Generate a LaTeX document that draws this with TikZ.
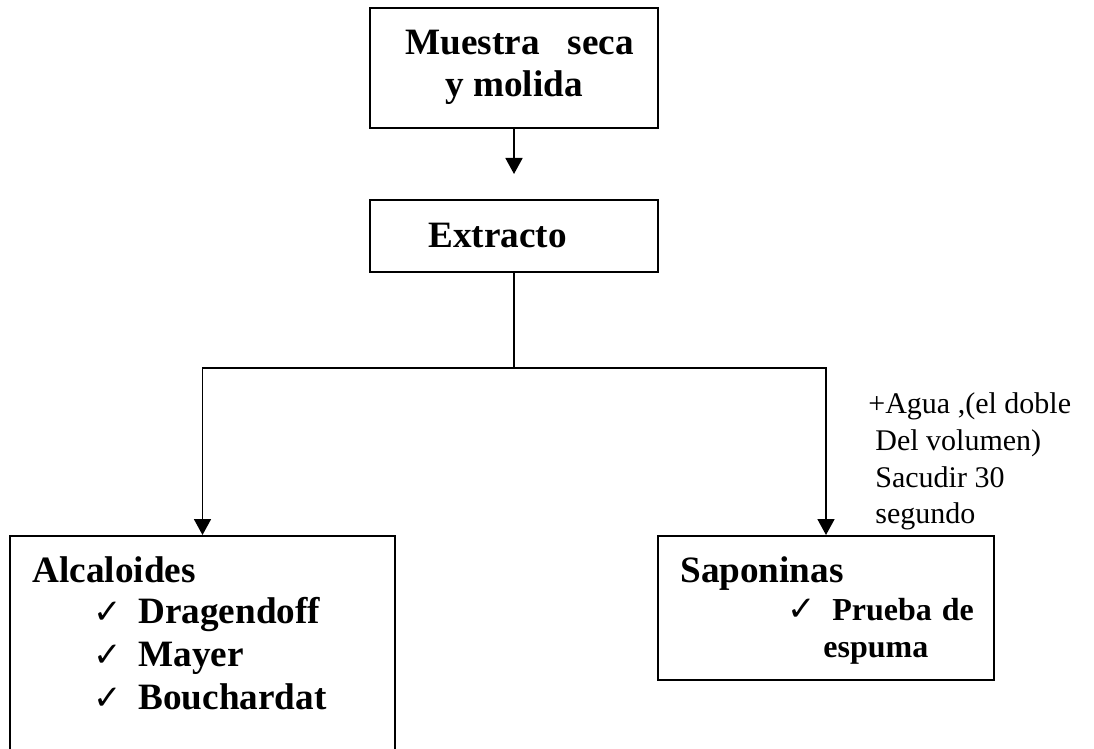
\documentclass[tikz,border=0pt]{standalone}
\usepackage{fontspec}
\setmainfont{Liberation Serif}
\newfontfamily\checkfont{DejaVu Sans}
\usetikzlibrary{arrows.meta}
\newcommand{\tick}{\makebox[22.5pt][l]{\checkfont\fontsize{17}{19}\selectfont ✓}}

\begin{document}
\begin{tikzpicture}[x=0.5pt,y=-0.5pt,line join=miter,
  box/.style={draw,line width=1pt,rectangle,inner sep=0pt},
  big/.style={anchor=base west,inner sep=0pt,font=\fontsize{18.6}{21}\selectfont\bfseries},
  mid/.style={anchor=base west,inner sep=0pt,font=\fontsize{16}{18}\selectfont\bfseries},
  note/.style={anchor=base west,inner sep=0pt,font=\fontsize{15}{17}\selectfont},
  arr/.style={line width=0.9pt,-{Triangle[width=8.5pt,length=8pt]}}]
  \clip (0,0) rectangle (1094,749);
  % boxes
  \node[box,minimum width=144pt,minimum height=60pt] (muestra) at (514,68) {};
  \node[box,minimum width=144pt,minimum height=36pt] (extracto) at (514,236) {};
  \node[box,minimum width=192.5pt,minimum height=117pt] (alcal) at (202.5,653) {};
  \node[box,minimum width=168pt,minimum height=72pt] (sapon) at (826,608) {};
  % connectors
  \coordinate (split) at (514,368);
  \draw[arr,shorten >=12.5pt] (muestra) -- (extracto);
  \draw[line width=0.9pt] (extracto.south) -- (split);
  \draw[arr] (split) -| (alcal.north);
  \draw[arr] (split) -| (sapon.north);
  % texts
  \node[big] (muestra1) at (405,55) {Muestra\hspace{14pt}seca};
  \node[big] (muestra2) at (445,97) {y molida};
  \node[big] (extracto1) at (428,248) {Extracto};
  \node[big] (alcal1) at (32,582) {Alcaloides};
  \node[big] (alcal2) at (93,623) {\tick Dragendoff};
  \node[big] (alcal3) at (93,666) {\tick Mayer};
  \node[big] (alcal4) at (93,709) {\tick Bouchardat};
  \node[big] (sapon1) at (680,582) {Saponinas};
  \node[mid] (sapon2) at (787,620) {\tick Prueba\hspace{5pt}de};
  \node[mid] (sapon3) at (823,657) {espuma};
  \node[note] (nota1) at (868,413) {+Agua ,(el doble};
  \node[note] (nota2) at (875,451) {Del volumen)};
  \node[note] (nota3) at (875,487) {Sacudir 30};
  \node[note] (nota4) at (875,523) {segundo};
\end{tikzpicture}
\end{document}
